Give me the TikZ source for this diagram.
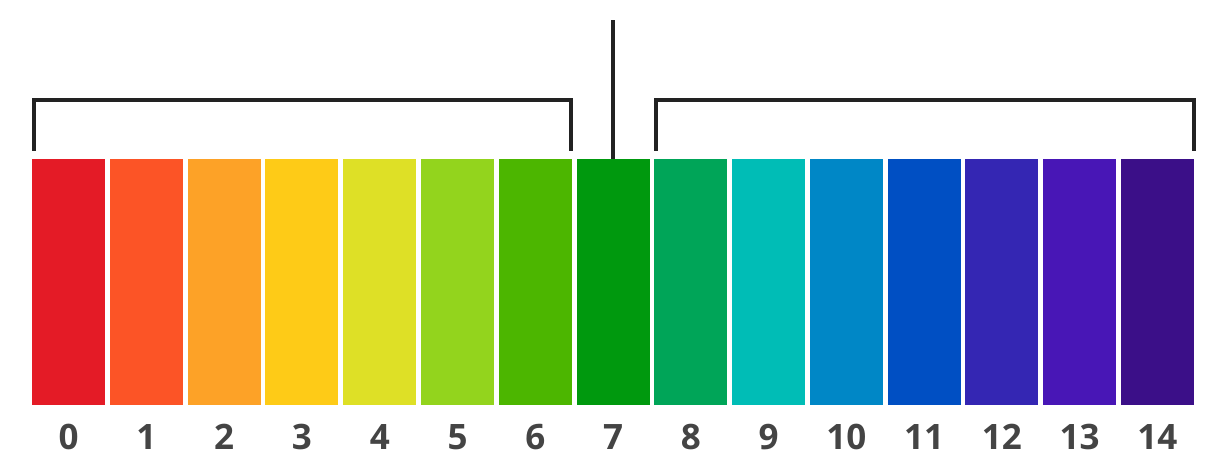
\documentclass[tikz,border=0pt]{standalone}
\usepackage{fontspec}
\setmainfont{Open Sans}
\usepackage{xcolor}
\usetikzlibrary{positioning, calc}
\definecolor{ph0}{HTML}{E41B26}
\definecolor{ph1}{HTML}{FC5426}
\definecolor{ph2}{HTML}{FDA227}
\definecolor{ph3}{HTML}{FECB17}
\definecolor{ph4}{HTML}{DEE026}
\definecolor{ph5}{HTML}{93D41D}
\definecolor{ph6}{HTML}{4CB600}
\definecolor{ph7}{HTML}{00990E}
\definecolor{ph8}{HTML}{00A558}
\definecolor{ph9}{HTML}{00BDB6}
\definecolor{ph10}{HTML}{0087C6}
\definecolor{ph11}{HTML}{004FC3}
\definecolor{ph12}{HTML}{3426B3}
\definecolor{ph13}{HTML}{4816B6}
\definecolor{ph14}{HTML}{3B0F88}
\definecolor{inkline}{HTML}{222222}
\definecolor{inktext}{HTML}{444444}

\begin{document}
\begin{tikzpicture}[x=1pt, y=1pt,
    bar/.style={minimum width=73pt, minimum height=246pt, inner sep=0pt, anchor=south west},
    lbl/.style={font=\fontsize{35}{40}\selectfont\bfseries, text=inktext},
    bracketline/.style={draw=inkline, line width=4pt}]
    \useasboundingbox (0,0) rectangle (1225,468);
    \foreach \i in {0,...,14} {
      \node[bar, fill=ph\i] (bar\i) at (32 + \i*77.76, 63) {};
      \node[lbl] (lbl\i) at ($(bar\i.south)+(0,-32)$) {\i};
    }
    % neutral marker
    \coordinate (mid) at ($(bar7.north)+(0,139)$);
    \draw[bracketline] (bar7.north) -- (mid);
    % acid and base brackets
    \draw[bracketline] ($(bar0.north west)+(2,8)$) |- ($(bar6.north east)+(-1,59)$)
      -- ($(bar6.north east)+(-1,8)$);
    \draw[bracketline] ($(bar8.north west)+(2,8)$) |- ($(bar14.north east)+(0,59)$)
      -- ($(bar14.north east)+(0,8)$);
  \end{tikzpicture}
\end{document}
